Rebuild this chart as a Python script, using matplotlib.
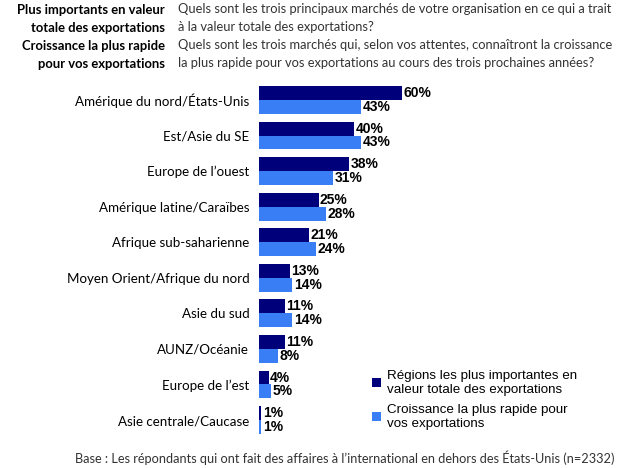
import numpy as np
import matplotlib
matplotlib.use('Agg')
import matplotlib.pyplot as plt

# Data
regions = [
    'Amérique du nord/États-Unis',
    'Est/Asie du SE',
    'Europe de l\u2019ouest',
    'Amérique latine/Caraïbes',
    'Afrique sub-saharienne',
    'Moyen Orient/Afrique du nord',
    'Asie du sud',
    'AUNZ/Océanie',
    'Europe de l\u2019est',
    'Asie centrale/Caucase',
]
valeur_totale = [60, 40, 38, 25, 21, 13, 11, 11, 4, 1]
croissance = [43, 43, 31, 28, 24, 14, 14, 8, 5, 1]

series_names = ['Régions les plus importantes en\nvaleur totale des exportations',
                'Croissance la plus rapide pour\nvos exportations']

dark = '#00007a'
light = '#3a7ef5'
label_font = 'Lato'
value_font = 'Liberation Sans'

fig = plt.figure(figsize=(6.24, 4.68), dpi=100)
ax = fig.add_axes([259 / 624, 1 - 437.8 / 468, 238 / 624, (437.8 - 82.2) / 468])

y = np.arange(len(regions))
h = 0.39
ax.barh(y - h / 2, valeur_totale, height=h, color=dark, label=series_names[0])
ax.barh(y + h / 2, croissance, height=h, color=light, label=series_names[1])

for yi, v in zip(y, valeur_totale):
    ax.text(v + 0.6, yi - h / 2, f'{v}%', va='center', ha='left',
            fontsize=10, fontweight='bold', family=value_font)
for yi, v in zip(y, croissance):
    ax.text(v + 0.6, yi + h / 2, f'{v}%', va='center', ha='left',
            fontsize=10, fontweight='bold', family=value_font)

ax.set_xlim(0, 100)
ax.set_ylim(9.5, -0.5)
ax.set_yticks(y)
ax.set_yticklabels(regions, family=label_font, fontsize=9.6)
ax.tick_params(axis='y', length=0, pad=7)
ax.set_xticks([])
for s in ax.spines.values():
    s.set_visible(False)

ax.legend(loc='upper left', bbox_to_anchor=((372 - 259) / 238, 1 - (370 - 82.2) / 355.6),
          frameon=False, prop={'family': value_font, 'size': 9.6},
          handlelength=0.7, handleheight=0.7, handletextpad=0.4,
          labelspacing=0.6, borderaxespad=0, borderpad=0)

# Header text
hdr_bold = ['Plus importants en valeur', 'totale des exportations',
            'Croissance la plus rapide', 'pour vos exportations']
hdr_text = ['Quels sont les trois principaux marchés de votre organisation en ce qui a trait',
            'à la valeur totale des exportations?',
            'Quels sont les trois marchés qui, selon vos attentes, connaîtront la croissance',
            'la plus rapide pour vos exportations au cours des trois prochaines années?']
ys = [10, 28, 46, 64]
for yy, tb, tt in zip(ys, hdr_bold, hdr_text):
    fig.text(165 / 624, 1 - yy / 468, tb, ha='right', va='center',
             family=label_font, fontweight='bold', fontsize=9.4)
    fig.text(178 / 624, 1 - (yy - 1) / 468, tt, ha='left', va='center',
             family=label_font, fontsize=9.3, color='#333333')

fig.text(75 / 624, 1 - 458 / 468,
         'Base : Les répondants qui ont fait des affaires à l\u2019international en dehors des États-Unis (n=2332)',
         ha='left', va='center', family=label_font, fontsize=9.2, color='#333333')

fig.savefig('out.png', dpi=100)
